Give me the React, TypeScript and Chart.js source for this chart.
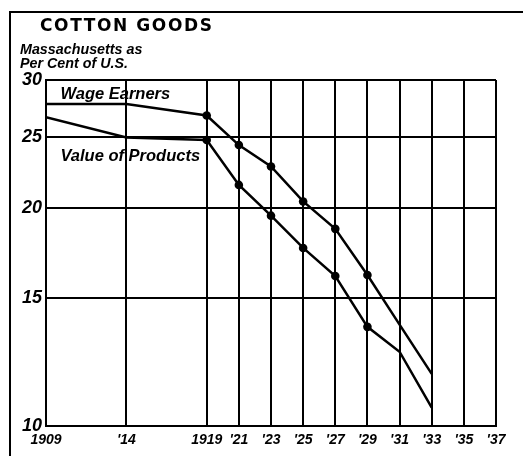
import React, { useEffect, useRef } from "react";
import { Chart, registerables } from "chart.js";

Chart.register(...registerables);

const years = [1909, 1914, 1919, 1921, 1923, 1925, 1927, 1929, 1931, 1933];
const wageEarners = [27.8, 27.8, 26.8, 24.4, 22.8, 20.4, 18.7, 16.15, 13.8, 11.8];
const valueOfProducts = [26.65, 25.0, 24.8, 21.5, 19.5, 17.6, 16.1, 13.7, 12.66, 10.6];
const markedYears = [1919, 1921, 1923, 1925, 1927, 1929];
const xTickValues = [1909, 1914, 1919, 1921, 1923, 1925, 1927, 1929, 1931, 1933, 1935, 1937];
const xTickLabels = ["1909", "'14", "1919", "'21", "'23", "'25", "'27", "'29", "'31", "'33", "'35", "'37"];
const yTickValues = [10, 15, 20, 25, 30];
const seriesNames = ["Wage Earners", "Value of Products"];
const titleText = "COTTON GOODS";
const subtitleLines = ["Massachusetts as", "Per Cent of U.S."];
// label anchors in data coordinates [year, value]
const labelAnchors = [
  [1909.9, 28.25],
  [1909.9, 23.2],
];

const decorPlugin = {
  id: "decor",
  afterDraw(chart: any) {
    const ctx = chart.ctx as CanvasRenderingContext2D;
    const xs = chart.scales.x;
    const ys = chart.scales.y;
    ctx.save();
    ctx.strokeStyle = "#000";
    ctx.lineWidth = 2;
    ctx.beginPath();
    ctx.moveTo(10, 456);
    ctx.lineTo(10, 12);
    ctx.lineTo(523, 12);
    ctx.stroke();

    ctx.fillStyle = "#000";
    ctx.textBaseline = "alphabetic";
    ctx.textAlign = "left";
    (ctx as any).letterSpacing = "1.6px";
    ctx.font = "bold 17px 'DejaVu Sans'";
    ctx.fillText(titleText, 40, 31);
    (ctx as any).letterSpacing = "0px";
    ctx.font = "italic bold 14.3px 'Liberation Sans'";
    ctx.fillText(subtitleLines[0], 20, 54);
    ctx.fillText(subtitleLines[1], 20, 68);

    ctx.font = "italic bold 16.5px 'Liberation Sans'";
    seriesNames.forEach((name, i) => {
      const [yr, v] = labelAnchors[i];
      ctx.fillText(name, xs.getPixelForValue(yr), ys.getPixelForValue(v));
    });
    ctx.restore();
  },
};

export default function App() {
  const ref = useRef<HTMLCanvasElement | null>(null);
  useEffect(() => {
    if (!ref.current) return;
    const mk = (vals: number[]) => years.map((yr, i) => ({ x: yr, y: vals[i] }));
    const pr = (c: any) => (markedYears.includes(years[c.dataIndex]) ? 4.3 : 0);
    const chart = new Chart(ref.current, {
      type: "line",
      data: {
        datasets: [
          {
            label: seriesNames[0],
            data: mk(wageEarners),
            borderColor: "#000",
            backgroundColor: "#000",
            borderWidth: 2.5,
            pointRadius: pr,
            pointBorderWidth: 0,
            pointBackgroundColor: "#000",
            tension: 0,
          },
          {
            label: seriesNames[1],
            data: mk(valueOfProducts),
            borderColor: "#000",
            backgroundColor: "#000",
            borderWidth: 2.5,
            pointRadius: pr,
            pointBorderWidth: 0,
            pointBackgroundColor: "#000",
            tension: 0,
          },
        ],
      },
      options: {
        responsive: false,
        animation: false,
        layout: { padding: { left: 10, top: 80, right: 27, bottom: 6 } },
        plugins: { legend: { display: false }, tooltip: { enabled: false }, title: { display: false } },
        scales: {
          x: {
            type: "linear",
            min: 1909,
            max: 1937,
            afterBuildTicks: (s: any) => {
              s.ticks = xTickValues.map((v) => ({ value: v }));
            },
            afterFit: (s: any) => {
              s.height = 24;
            },
            ticks: {
              autoSkip: false,
              maxRotation: 0,
              padding: 6,
              color: "#000",
              font: { family: "'Liberation Sans'", size: 14, style: "italic", weight: "bold" },
              callback: (v: any) => {
                const i = xTickValues.indexOf(Number(v));
                return i >= 0 ? xTickLabels[i] : "";
              },
            },
            grid: { color: "#000", lineWidth: 2, drawTicks: false },
            border: { display: true, color: "#000", width: 2 },
          },
          y: {
            type: "logarithmic",
            min: 10,
            max: 30,
            afterBuildTicks: (s: any) => {
              s.ticks = yTickValues.map((v) => ({ value: v }));
            },
            afterFit: (s: any) => {
              s.width = 36;
            },
            ticks: {
              autoSkip: false,
              padding: 4,
              color: "#000",
              font: { family: "'Liberation Sans'", size: 18, style: "italic", weight: "bold" },
              callback: (v: any) => String(v),
            },
            grid: { color: "#000", lineWidth: 2, drawTicks: false },
            border: { display: true, color: "#000", width: 2 },
          },
        },
      },
      plugins: [decorPlugin],
    });
    return () => chart.destroy();
  }, []);
  return (
    <div style={{ position: "fixed", left: 0, top: 0, width: 523, height: 456, background: "#fff" }}>
      <canvas ref={ref} width={523} height={456} style={{ display: "block" }} />
    </div>
  );
}
